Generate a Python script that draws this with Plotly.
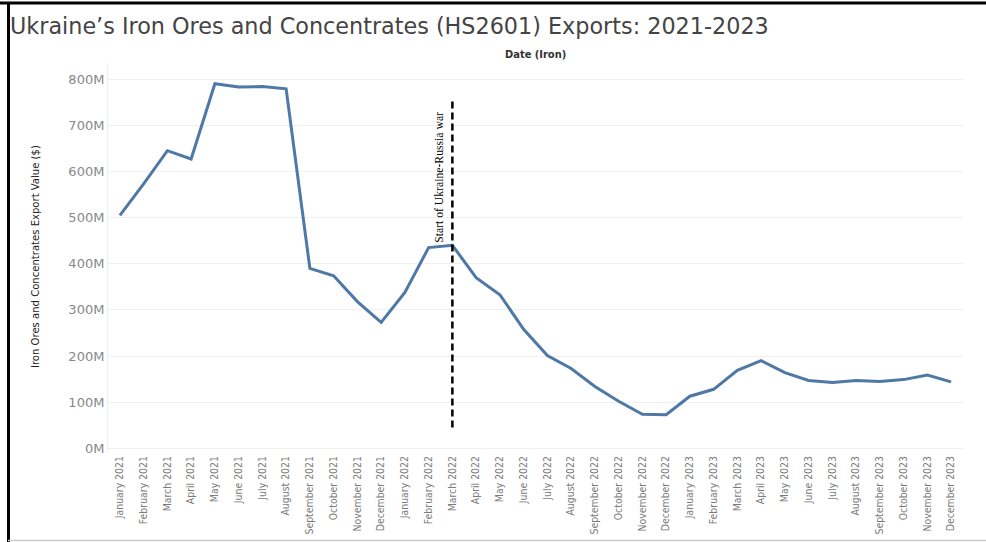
import plotly.graph_objects as go

months = ["January", "February", "March", "April", "May", "June", "July",
          "August", "September", "October", "November", "December"]
categories = [f"{m} {y}" for y in (2021, 2022, 2023) for m in months]

export_values = [505, 573, 645, 627, 790, 783, 784, 779, 390, 374, 318, 273,
                 338, 435, 440, 370, 333, 258, 201, 173, 134, 102, 74, 73,
                 113, 128, 169, 190, 164, 147, 143, 147, 145, 149, 159, 144]
export_values = [v * 1e6 for v in export_values]

y_ticks = [0, 100e6, 200e6, 300e6, 400e6, 500e6, 600e6, 700e6, 800e6]
y_tick_labels = ["0M", "100M", "200M", "300M", "400M", "500M", "600M", "700M", "800M"]

war_start = "March 2022"

W, H = 986, 542
L, R, T, B = 108, 23, 63, 89
pw, ph = W - L - R, H - T - B


def px(x):
    return (x - L) / pw


def py(y):
    return (H - B - y) / ph


fig = go.Figure()
fig.add_trace(go.Scatter(
    x=categories, y=export_values, mode="lines",
    line=dict(color="#4e79a7", width=3), showlegend=False,
    hoverinfo="x+y"))

fig.add_shape(type="line", xref="x", yref="y", x0=war_start, x1=war_start,
              y0=45e6, y1=755e6, line=dict(color="black", width=2.5, dash="7px,4px"))

fig.add_annotation(xref="x", yref="y", x=war_start, y=587e6, xshift=-13,
                   text="Start of Ukraine-Russia war", textangle=-90, showarrow=False,
                   font=dict(family="Liberation Serif, Times New Roman, serif", size=11.7, color="black"))

fig.add_annotation(xref="paper", yref="paper", x=0.5, y=1, yanchor="bottom", yshift=0,
                   text="<b>Date (Iron)</b>", showarrow=False,
                   font=dict(family="DejaVu Sans Condensed, DejaVu Sans, sans-serif", size=11, color="#333"))

fig.add_annotation(xref="paper", yref="paper", x=px(35), y=py(257), xanchor="center", yanchor="middle",
                   text="Iron Ores and Concentrates Export Value ($)", textangle=-90, showarrow=False,
                   font=dict(family="Liberation Sans Narrow, DejaVu Sans Condensed, sans-serif", size=11.2, color="#222"))

# frame lines
fig.add_shape(type="line", xref="paper", yref="paper", x0=px(0), x1=px(W), y0=py(3), y1=py(3),
              line=dict(color="black", width=3))
fig.add_shape(type="line", xref="paper", yref="paper", x0=px(8.5), x1=px(8.5), y0=py(2), y1=py(H),
              line=dict(color="black", width=3))
fig.add_shape(type="line", xref="paper", yref="paper", x0=px(8), x1=px(W), y0=py(540.5), y1=py(540.5),
              line=dict(color="#cccccc", width=1.5))

fig.update_layout(
    width=W, height=H,
    margin=dict(l=L, r=R, t=T, b=B, autoexpand=False),
    paper_bgcolor="white", plot_bgcolor="white",
    title=dict(text="Ukraine’s Iron Ores and Concentrates (HS2601) Exports: 2021-2023",
               x=10 / W, xanchor="left", xref="container",
               y=1 - 26 / H, yanchor="middle", yref="container",
               font=dict(family="DejaVu Sans, sans-serif", size=22.3, color="#444444")),
    xaxis=dict(type="category", range=[-0.5, 35.5], tickangle=-90, showgrid=False,
               showline=False, zeroline=False, ticks="", automargin=False,
               tickfont=dict(family="Liberation Sans Narrow, DejaVu Sans Condensed, sans-serif", size=10.4, color="#7a7a7a")),
    yaxis=dict(range=[-10e6, 835e6], tickvals=y_ticks, ticktext=y_tick_labels,
               showgrid=True, gridcolor="#f0f0f0", gridwidth=1, zeroline=False,
               showline=True, linecolor="#f0f0f0", linewidth=1, ticks="", automargin=False,
               tickfont=dict(family="DejaVu Sans, sans-serif", size=13, color="#888")),
)

fig.write_html("out.html", config={"displayModeBar": False},
               post_script="document.body.style.margin='0';document.body.style.overflow='hidden';")
